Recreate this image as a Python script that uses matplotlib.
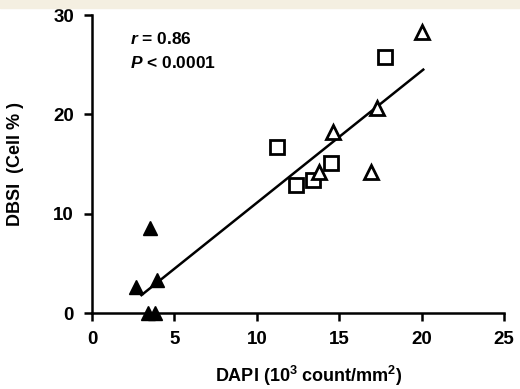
import numpy as np
import matplotlib.pyplot as plt
from matplotlib.patches import Rectangle

plt.rcParams['font.family'] = ['Liberation Sans', 'DejaVu Sans']
plt.rcParams['font.weight'] = 'bold'
plt.rcParams['mathtext.fontset'] = 'custom'
plt.rcParams['mathtext.rm'] = 'Liberation Sans'
plt.rcParams['mathtext.bf'] = 'Liberation Sans:bold'
plt.rcParams['mathtext.it'] = 'Liberation Sans:italic:bold'

# filled triangles
ft_x = [3.5, 2.7, 3.95, 3.4, 3.8]
ft_y = [8.6, 2.6, 3.3, 0.0, 0.0]
# open squares
sq_x = [11.2, 12.4, 13.4, 14.5, 17.8]
sq_y = [16.7, 12.9, 13.4, 15.1, 25.8]
# open triangles
ot_x = [13.8, 14.6, 16.9, 17.3, 20.0]
ot_y = [14.2, 18.2, 14.2, 20.6, 28.3]
# regression line ends
fit_x = [3.0, 20.1]
fit_y = [1.8, 24.5]

fig = plt.figure(figsize=(5.2, 3.89), dpi=100)
fig.patches.append(Rectangle((0, 1 - 8/389), 1, 8/389, transform=fig.transFigure,
                             color='#f4efe1', zorder=0))
ax = fig.add_axes([92/520, 1 - 313/389, 412/520, 298/389])

ax.plot(fit_x, fit_y, color='black', lw=1.8, zorder=2)
ax.plot(sq_x, sq_y, 's', ms=10.5, mfc='white', mec='black', mew=2, zorder=3)
ax.plot(ot_x, ot_y, '^', ms=9.5, mfc='white', mec='black', mew=2, zorder=3)
ax.plot(ft_x, ft_y, '^', ms=10.5, mfc='black', mec='black', mew=1, zorder=3, clip_on=False)

ax.set_xlim(0, 25)
ax.set_ylim(0, 30)
ax.set_xticks([0, 5, 10, 15, 20, 25])
ax.set_yticks([0, 10, 20, 30])
ax.spines['top'].set_visible(False)
ax.spines['right'].set_visible(False)
for s in ['left', 'bottom']:
    ax.spines[s].set_linewidth(1.8)
ax.tick_params(direction='out', length=6, width=1.8, labelsize=13.5, pad=7)
for lab in ax.get_xticklabels() + ax.get_yticklabels():
    lab.set_fontweight('bold')

ax.set_xlabel('DAPI (10$^{\\mathbf{3}}$ count/mm$^{\\mathbf{2}}$)', fontsize=13, fontweight='bold')
ax.xaxis.set_label_coords(0.525, -0.17)
ax.set_ylabel('DBSI  (Cell % )', fontsize=13, fontweight='bold')
ax.yaxis.set_label_coords(-0.165, 0.5)

ax.text(2.3, 27.6, '$\\it{r}$ = 0.86', fontsize=12.5, fontweight='bold', va='center')
ax.text(2.3, 25.2, '$\\it{P}$ < 0.0001', fontsize=12.5, fontweight='bold', va='center')

fig.savefig('out.png', dpi=100)
